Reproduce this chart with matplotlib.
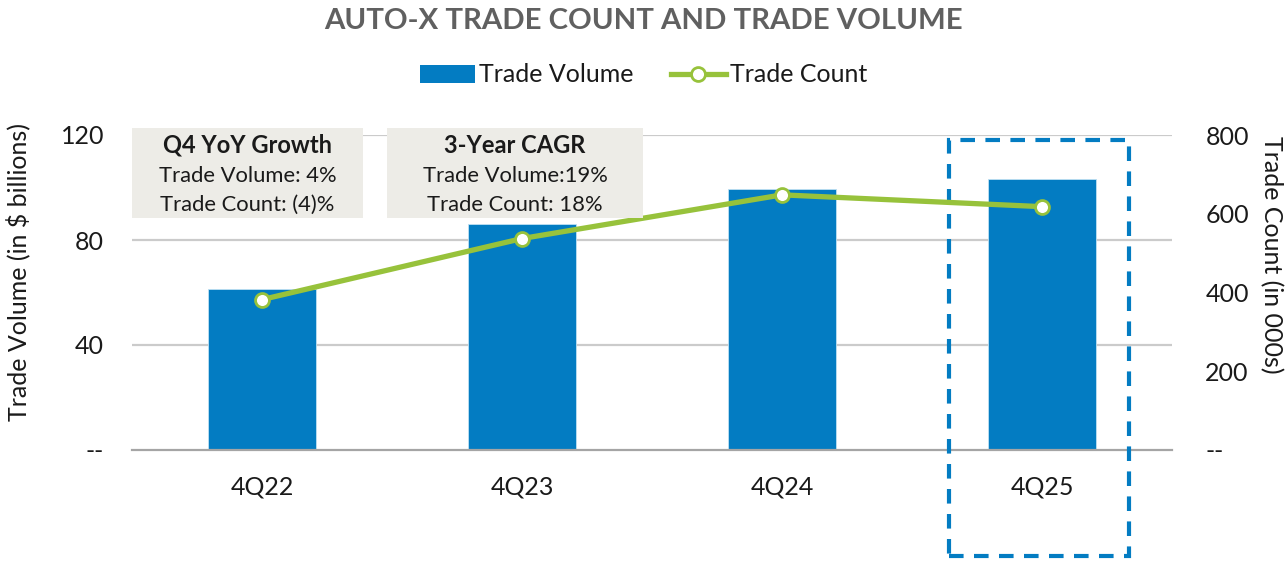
import matplotlib
matplotlib.use("Agg")
import matplotlib.pyplot as plt
from matplotlib.patches import Rectangle, Patch
from matplotlib.lines import Line2D

plt.rcParams['font.family'] = ['Lato', 'DejaVu Sans']

categories = ["4Q22", "4Q23", "4Q24", "4Q25"]
trade_volume = [61.3, 86.1, 99.4, 103.2]     # $ billions
trade_count = [382, 537, 648, 618]           # 000s
left_ticks = [0, 40, 80, 120]
left_labels = ["--", "40", "80", "120"]
right_ticks = [0, 200, 400, 600, 800]
right_labels = ["--", "200", "400", "600", "800"]
box_titles = ["Q4 YoY Growth", "3-Year CAGR"]
box_lines = [["Trade Volume: 4%", "Trade Count: (4)%"],
             ["Trade Volume:19%", "Trade Count: 18%"]]

BLUE = "#037CC2"
GREEN = "#97C23B"
GRID = "#CBCBCB"
TEXT = "#1A1A1A"
FS = 18

W, H = 1287, 561
fig = plt.figure(figsize=(W / 100, H / 100), dpi=100)
ax = fig.add_axes([132 / W, 1 - 450 / H, (1172 - 132) / W, (450 - 135) / H])
x = list(range(len(categories)))

ax.bar(x, trade_volume, width=0.415, color=BLUE, edgecolor="#BFE0F2", linewidth=0.6, zorder=2)
ax.set_xlim(-0.5, len(categories) - 0.5)
ax.set_ylim(0, 120)
ax.set_yticks(left_ticks)
ax.set_yticklabels(left_labels)
ax.set_xticks(x)
ax.set_xticklabels(categories)
ax.tick_params(axis='both', length=0, labelsize=FS, colors=TEXT)
ax.tick_params(axis='y', pad=20)
ax.tick_params(axis='x', pad=18)
for t in left_ticks[1:]:
    ax.axhline(t, color=GRID, lw=1.6, zorder=0)
for s in ["top", "right", "left"]:
    ax.spines[s].set_visible(False)
ax.spines["bottom"].set_color("#A5A5A5")
ax.spines["bottom"].set_linewidth(1.6)

ax2 = ax.twinx()
ax2.plot(x, trade_count, color=GREEN, lw=3.8, marker="o", markersize=10,
         markerfacecolor="white", markeredgecolor=GREEN, markeredgewidth=2, zorder=3)
ax2.set_ylim(0, 800)
ax2.set_yticks(right_ticks)
ax2.set_yticklabels(right_labels)
ax2.tick_params(axis='y', length=0, labelsize=FS, colors=TEXT, pad=24)
for s in ["top", "right", "left", "bottom"]:
    ax2.spines[s].set_visible(False)

fig.text(18 / W, 1 - 272 / H, "Trade Volume (in $ billions)", rotation=90, ha="center",
         va="center", fontsize=FS, color=TEXT)
fig.text(1271 / W, 1 - 255 / H, "Trade Count (in 000s)", rotation=270, ha="center",
         va="center", fontsize=FS, color=TEXT)

# dashed highlight around last category
hl = Rectangle((x[-1] - 0.358, -40.4), 0.693, 158.5, fill=False, edgecolor=BLUE,
               lw=3, linestyle=(0, (3.5, 2.5)), clip_on=False, zorder=4)
ax.add_patch(hl)

# annotation boxes (figure pixel coordinates)
boxes = [(132, 363), (387, 643)]
for (x0, x1), title, lines in zip(boxes, box_titles, box_lines):
    fig.patches.append(Rectangle((x0 / W, 1 - 218 / H), (x1 - x0) / W, 90 / H,
                                 transform=fig.transFigure, facecolor="#EDECE7",
                                 edgecolor="none", zorder=5))
    cx = (x0 + x1) / 2 / W
    fig.text(cx, 1 - 145 / H, title, ha="center", va="center", fontsize=17,
             fontweight="bold", color=TEXT, zorder=6)
    for i, ln in enumerate(lines):
        fig.text(cx, 1 - (176 + 29 * i) / H, ln, ha="center", va="center",
                 fontsize=15.8, color=TEXT, zorder=6)

fig.text(0.5, 1 - 21 / H, "AUTO-X TRADE COUNT AND TRADE VOLUME", ha="center", va="center",
         fontsize=21.2, fontweight="bold", color="#606060")

handles = [Patch(facecolor=BLUE, edgecolor="none"),
           Line2D([], [], color=GREEN, lw=3.8, marker="o", markersize=10,
                  markerfacecolor="white", markeredgecolor=GREEN, markeredgewidth=2)]
fig.legend(handles, ["Trade Volume", "Trade Count"], loc="center", ncol=2,
           bbox_to_anchor=(0.5, 1 - 75 / H), frameon=False, fontsize=FS,
           handlelength=2.2, handleheight=0.7, handletextpad=0.15, columnspacing=1.5,
           labelcolor=TEXT)

fig.savefig("out.png", dpi=100)
